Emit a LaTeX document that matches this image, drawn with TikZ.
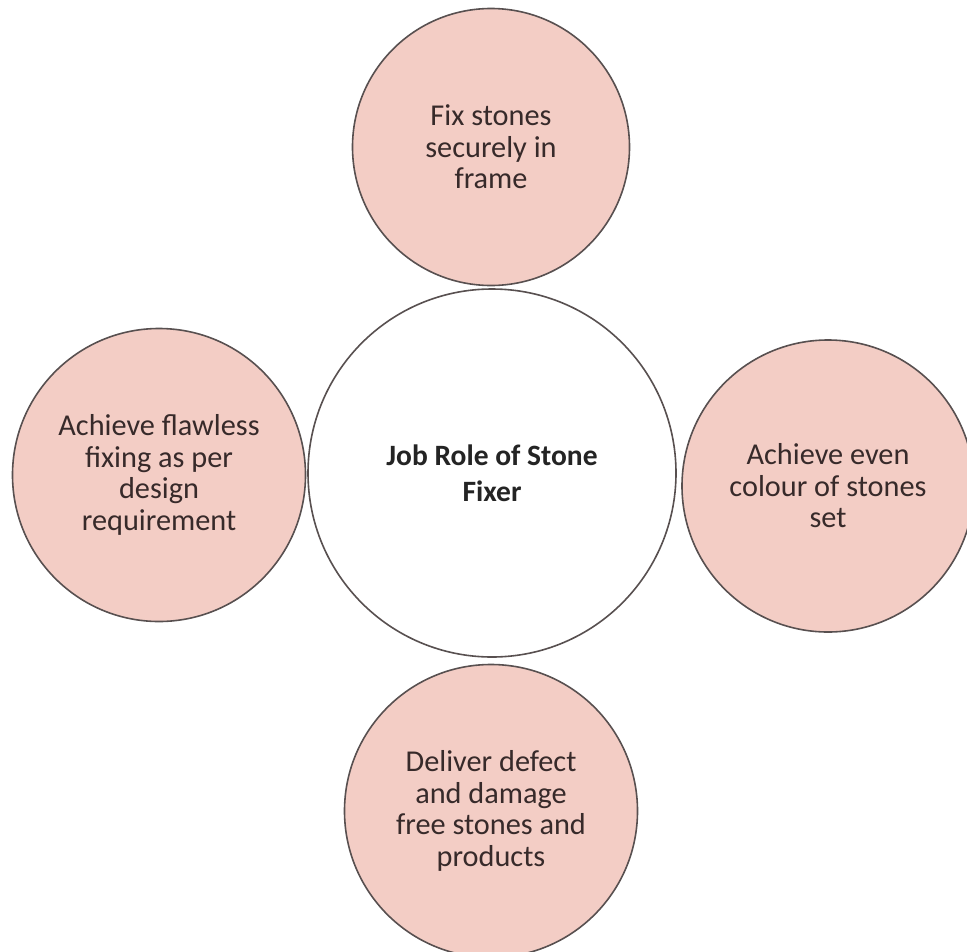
\documentclass[tikz,border=0pt]{standalone}
\usepackage{fontspec}
\setmainfont{Carlito}
\definecolor{rosefill}{RGB}{243,205,197}
\definecolor{edgegray}{RGB}{88,80,80}
\definecolor{textbrown}{RGB}{55,42,42}
\definecolor{hubtext}{RGB}{36,36,36}
\begin{document}
\begin{tikzpicture}[x=1pt,y=-1pt,
  role/.style={circle, draw=edgegray, line width=1.6pt, fill=rosefill,
    inner sep=0pt, align=center, text=textbrown,
    font=\fontsize{30.3}{31.5}\selectfont},
  hub/.style={circle, draw=edgegray, line width=1.6pt, fill=white,
    inner sep=0pt, align=center, text=hubtext,
    font=\bfseries\fontsize{29.5}{36}\selectfont}]
\useasboundingbox (0,0) rectangle (967,951);

% central topic
\node[hub, minimum size=368pt] (hub) at (492,473) {Job Role of Stone\\Fixer};

% surrounding duties
\node[role, minimum size=277pt] (fix) at (491,147)
  {Fix stones\\securely in\\frame};
\node[role, minimum size=293pt] (flaw) at (159,475)
  {Achieve flawless\\fixing as per\\design\\requirement};
\node[role, minimum size=292pt] (even) at (828,486)
  {Achieve even\\colour of stones\\set};
\node[role, minimum size=293pt] (free) at (491,811)
  {Deliver defect\\and damage\\free stones and\\products};
\end{tikzpicture}
\end{document}
